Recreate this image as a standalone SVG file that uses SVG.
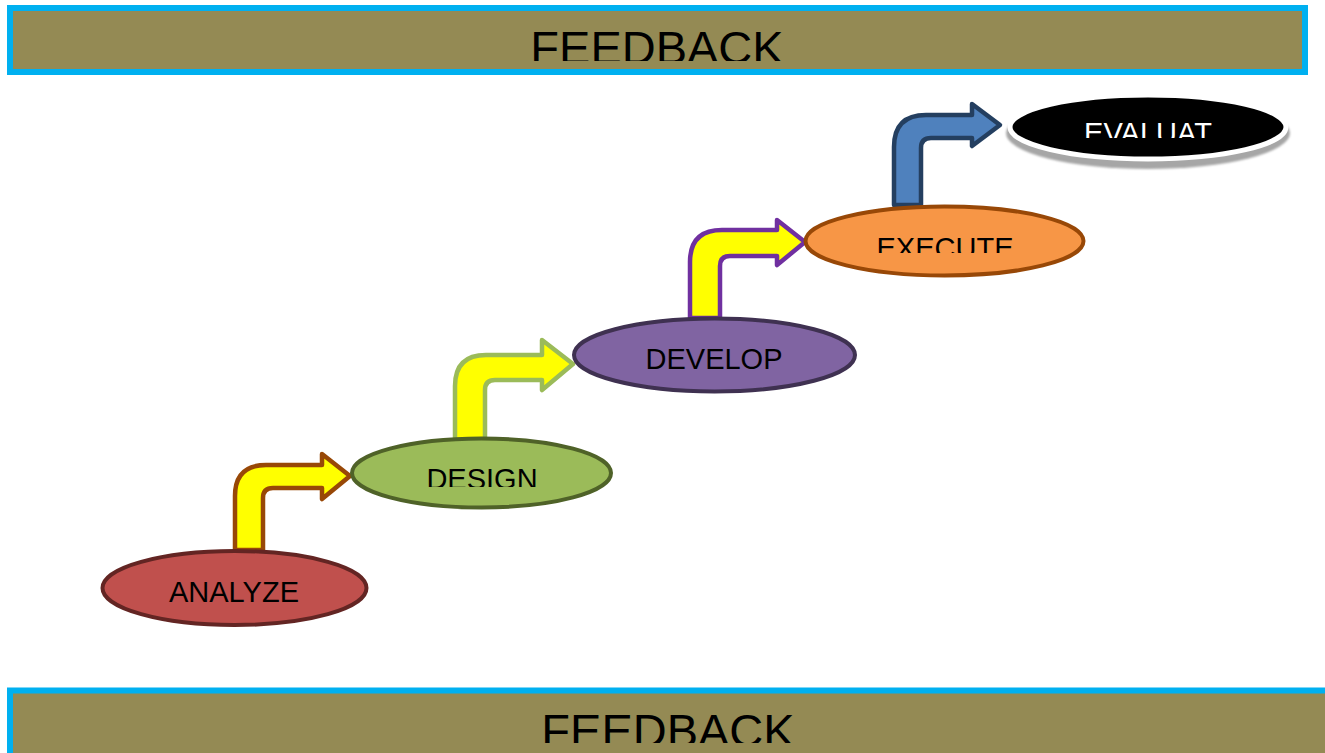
<svg xmlns="http://www.w3.org/2000/svg" width="1325" height="753" viewBox="0 0 1325 753">
<style>
.bar{fill:#948A54;stroke:#00B0F0;stroke-width:6}
.fb{font-family:"Liberation Sans",Arial,sans-serif;font-size:47px;fill:#000;text-anchor:middle}
.lbl{font-family:"Liberation Sans",Arial,sans-serif;font-size:29px;fill:#000;text-anchor:middle}
.arr{stroke-width:4.5;stroke-linejoin:round}
</style>
<defs>
<clipPath id="cTop"><rect x="0" y="0" width="1325" height="61"/></clipPath>
<clipPath id="cBot"><rect x="0" y="680" width="1325" height="63"/></clipPath>
<clipPath id="cDes"><rect x="350" y="440" width="265" height="47"/></clipPath>
<clipPath id="cExe"><rect x="805" y="210" width="280" height="43"/></clipPath>
<clipPath id="cEva"><rect x="1010" y="98" width="280" height="40"/></clipPath>
<filter id="blur" x="-10%" y="-30%" width="120%" height="160%"><feGaussianBlur stdDeviation="1.2"/></filter>
</defs>

<g id="feedback-top">
<rect class="bar" x="10" y="8" width="1295" height="64"/>
<text class="fb" x="657" y="64" clip-path="url(#cTop)">FEEDBACK</text>
</g>

<g id="feedback-bottom">
<rect class="bar" x="10" y="690.5" width="1330" height="80"/>
<text class="fb" x="668" y="747" clip-path="url(#cBot)">FEEDBACK</text>
</g>

<g id="connectors">
<path class="arr" fill="#FFFF00" stroke="#984807" d="M235,550 L235,496 Q235,465 266,465 L322,465 L322,454 L350,476 L322,499 L322,488 L273,488 Q263,488 263,498 L263,550 Z"/>
<path class="arr" fill="#FFFF00" stroke="#9BBB59" d="M455,440 L455,386 Q455,355 486,355 L542,355 L542,340 L573,364 L542,390 L542,380 L495,380 Q485,380 485,390 L485,440 Z"/>
<path class="arr" fill="#FFFF00" stroke="#7030A0" d="M690,318 L690,262 Q690,230 722,230 L777,230 L777,220 L805,242 L777,265 L777,256 L730,256 Q720,256 720,266 L720,318 Z"/>
<path class="arr" fill="#4F81BD" stroke="#243F60" d="M894,205 L894,147 Q894,115 926,115 L972,115 L972,104 L1000,125 L972,146 L972,138 L931,138 Q921,138 921,148 L921,205 Z"/>
</g>

<g id="analyze">
<ellipse cx="234.5" cy="588" rx="132" ry="37" fill="#C0504D" stroke="#632523" stroke-width="4"/>
<text class="lbl" x="234" y="602">ANALYZE</text>
</g>

<g id="design">
<ellipse cx="481.5" cy="473" rx="129.5" ry="34.5" fill="#9BBB59" stroke="#4F6228" stroke-width="4"/>
<text class="lbl" x="482" y="489" clip-path="url(#cDes)">DESIGN</text>
</g>

<g id="develop">
<ellipse cx="714.5" cy="355" rx="140.5" ry="36.5" fill="#8064A2" stroke="#3F3151" stroke-width="4"/>
<text class="lbl" x="714" y="369">DEVELOP</text>
</g>

<g id="execute">
<ellipse cx="944.5" cy="241" rx="139" ry="34.5" fill="#F79646" stroke="#984807" stroke-width="4"/>
<text class="lbl" x="945" y="258" clip-path="url(#cExe)">EXECUTE</text>
</g>

<g id="evaluate">
<ellipse cx="1148" cy="133" rx="142" ry="36" fill="#A6A6A6" filter="url(#blur)"/>
<ellipse cx="1148" cy="127" rx="138" ry="32" fill="#000" stroke="#FFFFFF" stroke-width="5"/>
<text class="lbl" x="1148" y="143" fill="#FFFFFF" style="fill:#FFFFFF" clip-path="url(#cEva)">EVALUAT</text>
</g>
</svg>
